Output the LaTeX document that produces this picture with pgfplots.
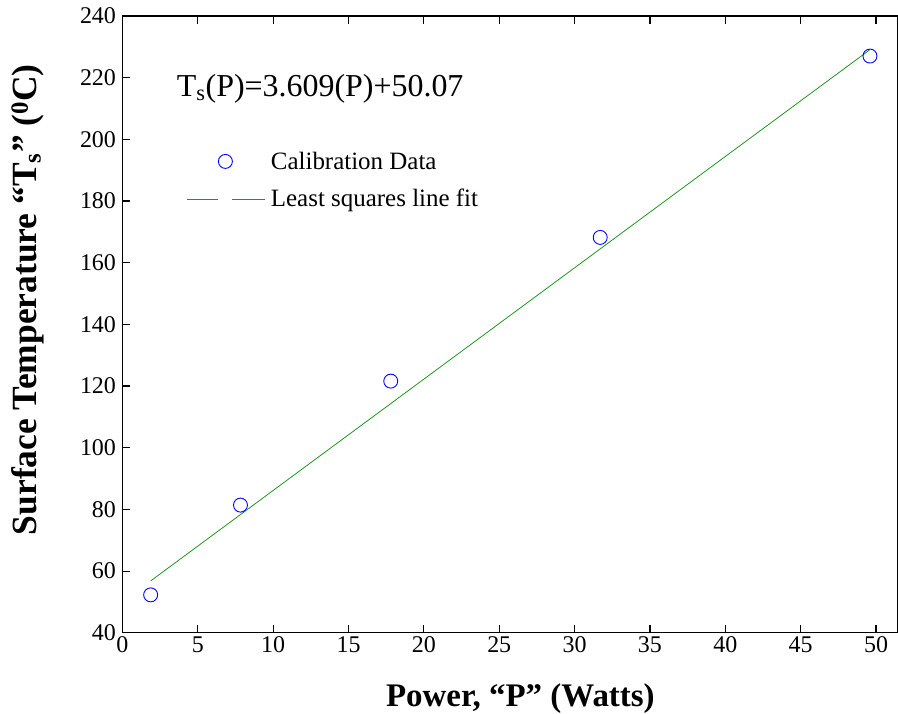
\documentclass[border=0pt]{standalone}
\usepackage{pgfplots}
\pgfplotsset{compat=1.18}
\usepackage{fontspec}
\setmainfont{Liberation Serif}
\definecolor{fitgreen}{RGB}{30,150,30}
\definecolor{ptblue}{RGB}{0,0,255}
\begin{document}
\begin{tikzpicture}
\begin{axis}[
  name=ax,
  scale only axis,
  width=777pt, height=618pt,
  xmin=0, xmax=51.46,
  ymin=40, ymax=240,
  xtick={0,5,...,50},
  ytick={40,60,...,240},
  tick align=inside,
  major tick length=8pt,
  xtick pos=both, ytick pos=left,
  axis line style={line width=1.2pt},
  tick style={line width=1.2pt, black},
  tick label style={font=\fontsize{24}{26}\selectfont},
  yticklabel style={xshift=-3pt},
  /pgf/number format/assume math mode=true,
  xlabel={\textbf{Power, “P” (Watts)}},
  ylabel={\textbf{Surface Temperature “T\textsubscript{s}” (\textsuperscript{0}C)}},
  xlabel style={font=\fontsize{33}{35}\selectfont, at={(axis cs:26.4,40)}, anchor=base, yshift=-74pt},
  ylabel style={font=\fontsize{35.5}{37}\selectfont, at={([xshift=-94.7pt]rel axis cs:0,0.54)}, anchor=center},
  legend cell align=left,
  legend style={draw=none, fill=none, inner sep=0pt,
    at={(axis cs:4.26,196.6)}, anchor=north west,
    font=\fontsize{25}{27}\selectfont, row sep=14pt, column sep=3pt,
    nodes={inner sep=2pt}},
]
\addplot[only marks, mark=o, mark size=7pt, ptblue, line width=0.9pt,
  legend image code/.code={\draw[ptblue, line width=0.9pt] (38pt,0) circle (7pt); \path[draw=none] (0,0) -- (78pt,0);}]
  coordinates {(1.87,52.3) (7.83,81.4) (17.8,121.6) (31.7,168.2) (49.6,227.0)};
\addlegendentry{Calibration Data}
\addplot[fitgreen, line width=0.8pt,
  legend image code/.code={\draw[fitgreen, line width=1.2pt] (0,-1pt) -- (31pt,-1pt); \draw[fitgreen, line width=1.2pt] (45pt,-1pt) -- (78pt,-1pt);}]
  coordinates {(1.87,56.82) (49.6,229.08)};
\addlegendentry{Least squares line fit}
\node[anchor=base west, inner sep=0pt, font=\fontsize{32}{34}\selectfont] at (axis cs:3.6,213.8) {T\textsubscript{s}(P)=3.609(P)+50.07};
\end{axis}
\pgfresetboundingbox
\useasboundingbox ([xshift=-122.7pt,yshift=-81pt]ax.south west) rectangle ([yshift=16pt]ax.north east);
\end{tikzpicture}
\end{document}
